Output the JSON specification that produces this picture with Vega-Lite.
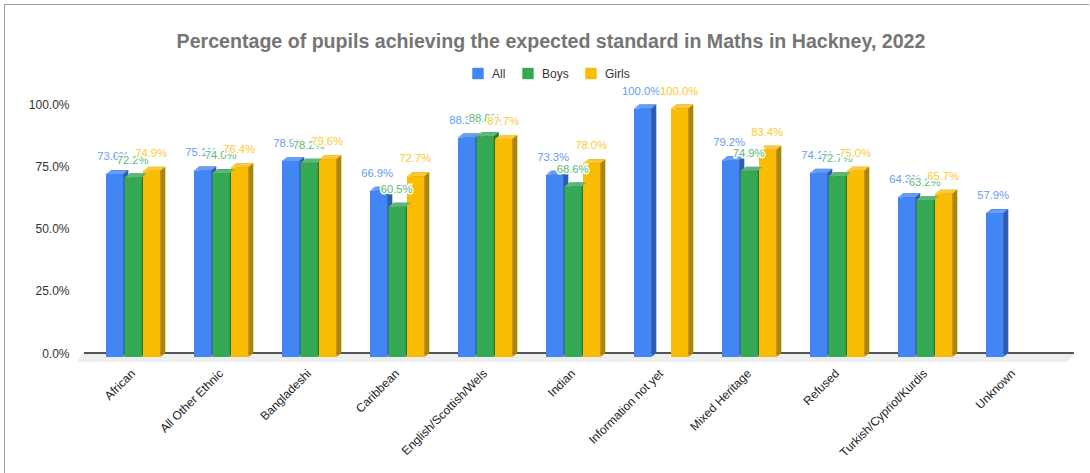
{
"$schema":"https://vega.github.io/schema/vega-lite/v6.json",
"width":990,"height":248.5,
"autosize":{"type":"none"},
"padding":{"left":84,"top":104.5,"right":16,"bottom":120},
"background":"#ffffff",
"title":{"text":"Percentage of pupils achieving the expected standard in Maths in Hackney, 2022","font":"Liberation Sans","fontSize":19.6,"fontWeight":"bold","color":"#757575","anchor":"middle","dx":-28,"offset":-65,"baseline":"alphabetic"},
"datasets":{"rows":[
{"group":"African","series":"All","value":0.736},{"group":"African","series":"Boys","value":0.722},{"group":"African","series":"Girls","value":0.749},
{"group":"All Other Ethnic","series":"All","value":0.751},{"group":"All Other Ethnic","series":"Boys","value":0.740},{"group":"All Other Ethnic","series":"Girls","value":0.764},
{"group":"Bangladeshi","series":"All","value":0.789},{"group":"Bangladeshi","series":"Boys","value":0.782},{"group":"Bangladeshi","series":"Girls","value":0.796},
{"group":"Caribbean","series":"All","value":0.669},{"group":"Caribbean","series":"Boys","value":0.605},{"group":"Caribbean","series":"Girls","value":0.727},
{"group":"English/Scottish/Wels","series":"All","value":0.883},{"group":"English/Scottish/Wels","series":"Boys","value":0.888},{"group":"English/Scottish/Wels","series":"Girls","value":0.877},
{"group":"Indian","series":"All","value":0.733},{"group":"Indian","series":"Boys","value":0.686},{"group":"Indian","series":"Girls","value":0.780},
{"group":"Information not yet","series":"All","value":1.0},{"group":"Information not yet","series":"Girls","value":1.0},
{"group":"Mixed Heritage","series":"All","value":0.792},{"group":"Mixed Heritage","series":"Boys","value":0.749},{"group":"Mixed Heritage","series":"Girls","value":0.834},
{"group":"Refused","series":"All","value":0.741},{"group":"Refused","series":"Boys","value":0.727},{"group":"Refused","series":"Girls","value":0.750},
{"group":"Turkish/Cypriot/Kurdis","series":"All","value":0.643},{"group":"Turkish/Cypriot/Kurdis","series":"Boys","value":0.632},{"group":"Turkish/Cypriot/Kurdis","series":"Girls","value":0.657},
{"group":"Unknown","series":"All","value":0.579}
]},
"data":{"name":"rows"},
"config":{"view":{"stroke":null},"font":"Liberation Sans"},
"layer":[
{"mark":{"type":"point","shape":"M-1.149 0.49L-1.149 -0.4485L1.02 -0.4485","size":1000000,"filled":false,"stroke":"#9e9e9e","strokeWidth":1,"opacity":1},"encoding":{}},
{"mark":{"type":"point","shape":"M-1 0L1 0L0.986 0.017L-1.014 0.017Z","size":980100,"filled":true,"fill":"#eeeeee","stroke":null,"opacity":1},
 "encoding":{"y":{"datum":0,"type":"quantitative","scale":{"domain":[0,1],"nice":false},
   "axis":{"title":null,"values":[0,0.25,0.5,0.75,1],"format":".1%","domain":false,"ticks":false,"labelFontSize":12,"labelColor":"#333333","labelPadding":15,"gridColor":"#cccccc","gridWidth":1.2}}}},
{"mark":{"type":"rule","color":"#555555","strokeWidth":1.5},"encoding":{"y":{"datum":0,"type":"quantitative"}}},
{"mark":{"type":"bar"},
 "encoding":{
  "x":{"field":"group","type":"nominal","sort":null,"axis":null,"scale":{"type":"band","paddingInner":0.383,"paddingOuter":0.3165,"align":0.485}},
  "xOffset":{"field":"series","type":"nominal","scale":{"domain":["All","Boys","Girls"],"paddingInner":0.065}},
  "y":{"field":"value","type":"quantitative"},
  "color":{"field":"series","type":"nominal","legend":null,"scale":{"domain":["All","Boys","Girls"],"range":["#2f5dab","#247539","#af8303"]}}}},
{"layer":[
{"mark":{"type":"point","shape":"M1 0.46L1 0L1.58 0Z","size":299,"filled":true,"opacity":1},
 "encoding":{
  "x":{"field":"group","type":"nominal","sort":null,"scale":{"type":"band","paddingInner":0.383,"paddingOuter":0.3165,"align":0.395},
    "axis":{"title":null,"labelAngle":-45,"labelAlign":"right","labelBaseline":"middle","labelFontSize":12,"labelColor":"#222222","ticks":false,"domain":false,"grid":false,"labelPadding":18,"labelDx":4,"labelDy":-1,"labelLimit":300,"labelOverlap":false}},
  "xOffset":{"field":"series","type":"nominal","scale":{"domain":["All","Boys","Girls"],"paddingInner":0.065}},
  "y":{"datum":0,"type":"quantitative"},
  "color":{"field":"series","type":"nominal","legend":null,"scale":{"domain":["All","Boys","Girls"],"range":["#2f5dab","#247539","#af8303"]}}}},
{"mark":{"type":"bar","yOffset":4,"y2Offset":4},
 "encoding":{
  "x":{"field":"group","type":"nominal","sort":null},
  "xOffset":{"field":"series","type":"nominal"},
  "y":{"field":"value","type":"quantitative"},
  "color":{"field":"series","type":"nominal","scale":{"domain":["All","Boys","Girls"],"range":["#4285f4","#34a853","#fbbc04"]},
   "legend":{"title":null,"orient":"none","legendX":388,"legendY":-37,"direction":"horizontal","columns":3,"symbolType":"square","symbolSize":130,"symbolStrokeWidth":0,"labelFontSize":12,"labelColor":"#333333","columnPadding":16,"labelOffset":8}}}},
{"mark":{"type":"point","shape":"M-1 0L1 0L1.58 -0.46L-0.42 -0.46Z","size":299,"filled":true,"yOffset":4,"opacity":1},
 "encoding":{
  "x":{"field":"group","type":"nominal","sort":null},
  "xOffset":{"field":"series","type":"nominal"},
  "y":{"field":"value","type":"quantitative"},
  "color":{"field":"series","type":"nominal","legend":null,"scale":{"domain":["All","Boys","Girls"],"range":["#689df6","#5cb975","#fcc936"]}}}},
{"transform":[{"filter":"datum.series==='All'"}],"mark":{"type":"text","fontSize":11.3,"dy":-13,"dx":-1.5,"stroke":"#ffffff","strokeWidth":3,"fill":"#ffffff"},
 "encoding":{"x":{"field":"group","type":"nominal","sort":null},"xOffset":{"field":"series","type":"nominal"},"y":{"field":"value","type":"quantitative"},"text":{"field":"value","format":".1%","type":"quantitative"}}},
{"transform":[{"filter":"datum.series==='All'"}],"mark":{"type":"text","fontSize":11.3,"dy":-13,"dx":-1.5,"fill":"#679cf6"},
 "encoding":{"x":{"field":"group","type":"nominal","sort":null},"xOffset":{"field":"series","type":"nominal"},"y":{"field":"value","type":"quantitative"},"text":{"field":"value","format":".1%","type":"quantitative"}}},
{"transform":[{"filter":"datum.series==='Boys'"}],"mark":{"type":"text","fontSize":11.3,"dy":-13,"dx":-0.5,"stroke":"#ffffff","strokeWidth":3,"fill":"#ffffff"},
 "encoding":{"x":{"field":"group","type":"nominal","sort":null},"xOffset":{"field":"series","type":"nominal"},"y":{"field":"value","type":"quantitative"},"text":{"field":"value","format":".1%","type":"quantitative"}}},
{"transform":[{"filter":"datum.series==='Boys'"}],"mark":{"type":"text","fontSize":11.3,"dy":-13,"dx":-0.5,"fill":"#5cb975"},
 "encoding":{"x":{"field":"group","type":"nominal","sort":null},"xOffset":{"field":"series","type":"nominal"},"y":{"field":"value","type":"quantitative"},"text":{"field":"value","format":".1%","type":"quantitative"}}},
{"transform":[{"filter":"datum.series==='Girls'"}],"mark":{"type":"text","fontSize":11.3,"dy":-13,"dx":-0.5,"stroke":"#ffffff","strokeWidth":3,"fill":"#ffffff"},
 "encoding":{"x":{"field":"group","type":"nominal","sort":null},"xOffset":{"field":"series","type":"nominal"},"y":{"field":"value","type":"quantitative"},"text":{"field":"value","format":".1%","type":"quantitative"}}},
{"transform":[{"filter":"datum.series==='Girls'"}],"mark":{"type":"text","fontSize":11.3,"dy":-13,"dx":-0.5,"fill":"#fcc934"},
 "encoding":{"x":{"field":"group","type":"nominal","sort":null},"xOffset":{"field":"series","type":"nominal"},"y":{"field":"value","type":"quantitative"},"text":{"field":"value","format":".1%","type":"quantitative"}}}
],"resolve":{"scale":{"color":"independent"}}}
],
"resolve":{"scale":{"color":"independent","x":"independent","xOffset":"independent"}}
}
